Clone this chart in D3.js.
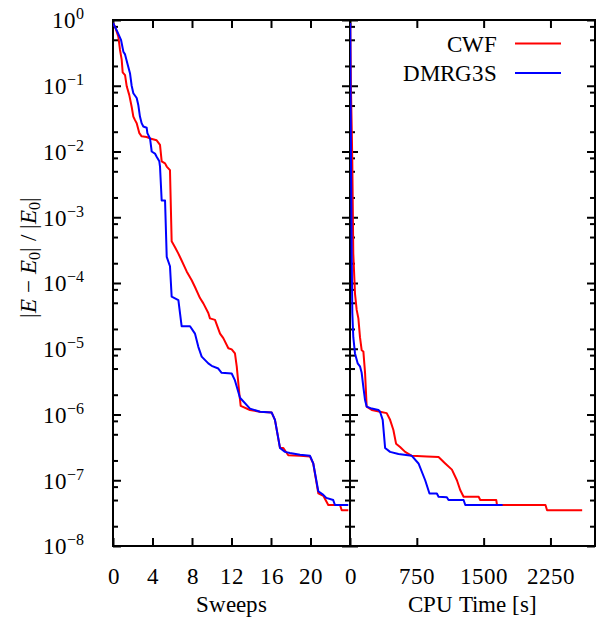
<!DOCTYPE html>
<html>
<head>
<meta charset="utf-8">
<script src="https://cdn.jsdelivr.net/npm/d3@7"></script>
<style>
@font-face { font-family: "ChartSerif"; src: local("Liberation Serif"), local("LiberationSerif"), local("LiberationSerif-Regular"); font-style: normal; }
@font-face { font-family: "ChartSerif"; src: local("Liberation Serif Italic"), local("LiberationSerif-Italic"); font-style: italic; }
</style>
</head>
<body style="margin:0">
<svg id="chart" width="599" height="618" style="font-family: ChartSerif, 'Liberation Serif', 'Times New Roman', serif"></svg>
<script>
// tick labels / series names
const sweepTicks = [0, 4, 8, 12, 16, 20];
const timeTicks = [0, 750, 1500, 2250];
const decades = [0, -1, -2, -3, -4, -5, -6, -7, -8];
const minorMantissas = [2, 5, 8];
const seriesNames = ["CWF", "DMRG3S"];
const seriesColors = ["#ff0000", "#0000ff"];

// relative error vs sweeps  [sweep, |E-E0|/|E0|]
const cwfSweeps = [
  [0, 0.9], [0.2, 0.79], [0.54, 0.56], [0.71, 0.35], [0.88, 0.25], [0.98, 0.16], [1.22, 0.145],
  [1.39, 0.098], [1.65, 0.072], [1.89, 0.048], [2.06, 0.034], [2.23, 0.030], [2.40, 0.027],
  [2.67, 0.019], [2.90, 0.017], [3.41, 0.0166], [3.75, 0.0158], [4.42, 0.0148], [4.76, 0.0126],
  [4.93, 0.0071], [5.27, 0.0066], [5.44, 0.0059], [5.77, 0.0052], [5.94, 4.3e-4], [6.28, 3.5e-4],
  [6.62, 2.8e-4], [6.95, 2.2e-4], [7.46, 1.5e-4], [7.97, 1.1e-4], [8.30, 8.7e-5], [8.81, 5.9e-5],
  [9.15, 4.9e-5], [9.65, 3.5e-5], [9.82, 2.9e-5], [10.33, 2.75e-5], [10.84, 1.7e-5], [11.17, 1.45e-5],
  [11.68, 1.02e-5], [12.02, 9.8e-6], [12.35, 8.5e-6], [12.53, 5.4e-6], [12.79, 2.1e-6], [12.93, 1.35e-6],
  [13.87, 1.17e-6], [14.89, 1.10e-6], [16.07, 1.07e-6], [16.4, 8.3e-7], [16.91, 3.1e-7], [17.25, 3.1e-7],
  [17.75, 2.4e-7], [18.94, 2.35e-7], [19.95, 2.3e-7], [20.28, 1.8e-7], [20.79, 6.3e-8], [21.3, 5.8e-8],
  [21.8, 4.2e-8], [22.99, 4.2e-8], [23.16, 3.5e-8], [23.83, 3.5e-8]
];
const dmrgSweeps = [
  [0, 0.9], [0.37, 0.70], [0.81, 0.50], [1.05, 0.33], [1.22, 0.30], [1.45, 0.22], [1.72, 0.155],
  [1.89, 0.10], [2.06, 0.077], [2.40, 0.065], [2.56, 0.051], [2.73, 0.034], [2.90, 0.027], [3.07, 0.024],
  [3.41, 0.023], [3.48, 0.019], [3.75, 0.0158], [3.92, 0.010], [4.25, 0.0093], [4.42, 0.0083],
  [4.69, 0.0071], [4.76, 0.0059], [4.93, 0.0018], [5.27, 0.0018], [5.44, 2.5e-4], [5.77, 1.8e-4],
  [5.94, 6.2e-5], [6.62, 5.5e-5], [6.95, 2.2e-5], [7.80, 2.2e-5], [8.30, 1.7e-5], [8.64, 1.07e-5],
  [8.98, 7.6e-6], [9.65, 6.0e-6], [9.99, 5.5e-6], [10.66, 5.0e-6], [11.0, 4.3e-6], [12.02, 4.2e-6],
  [12.35, 3.3e-6], [12.86, 1.8e-6], [13.87, 1.23e-6], [14.89, 1.10e-6], [16.07, 1.07e-6], [16.4, 8.3e-7],
  [16.91, 3.1e-7], [17.42, 2.7e-7], [17.92, 2.6e-7], [18.94, 2.45e-7], [19.95, 2.35e-7], [20.28, 1.8e-7],
  [20.79, 6.8e-8], [21.3, 6.0e-8], [21.6, 5.4e-8], [22.3, 5.0e-8], [22.48, 4.2e-8], [23.83, 4.2e-8]
];

// relative error vs CPU time  [seconds, |E-E0|/|E0|]
const cwfTime = [
  [3, 0.9], [10, 0.1], [20, 0.02], [26, 6.6e-3], [37, 2.8e-4], [56, 6.9e-5], [75, 3.9e-5], [94, 2.9e-5],
  [112, 1.5e-5], [131, 9.5e-6], [150, 9.1e-6], [169, 4.3e-6], [187, 1.32e-6], [244, 1.17e-6],
  [337, 1.10e-6], [412, 1.05e-6], [450, 8.3e-7], [487, 5.8e-7], [517, 3.6e-7], [562, 3.2e-7],
  [619, 2.7e-7], [694, 2.35e-7], [862, 2.3e-7], [994, 2.25e-7], [1069, 1.8e-7], [1144, 1.45e-7],
  [1200, 1.0e-7], [1237, 7.1e-8], [1275, 5.6e-8], [1444, 5.6e-8], [1462, 5.0e-8], [1642, 5.0e-8],
  [1650, 4.2e-8], [2194, 4.2e-8], [2212, 3.5e-8], [2606, 3.5e-8]
];
const dmrgTime = [
  [3, 0.9], [6, 0.1], [11, 9e-3], [19, 2.8e-4], [26, 3.5e-5], [37, 1.5e-5], [56, 8.5e-6], [86, 6.0e-6],
  [112, 5.4e-6], [131, 4.3e-6], [150, 2.6e-6], [169, 1.66e-6], [187, 1.32e-6], [244, 1.23e-6],
  [319, 1.17e-6], [337, 1.10e-6], [367, 8.3e-7], [394, 3.1e-7], [450, 2.7e-7], [544, 2.5e-7],
  [694, 2.35e-7], [769, 1.8e-7], [844, 1.0e-7], [892, 6.3e-8], [975, 6.3e-8], [994, 5.6e-8],
  [1087, 5.5e-8], [1106, 5.0e-8], [1275, 5.0e-8], [1294, 4.2e-8], [1713, 4.2e-8]
];

const svg = d3.select("#chart");
const plotTop = 20, plotBottom = 546, plotLeft = 113, plotMid = 350, plotRight = 595;
const fontFamily = "ChartSerif, 'Liberation Serif', 'Times New Roman', serif";
const fontSize = 23;

const y = d3.scaleLog().domain([1e-8, 1]).range([plotBottom, plotTop]);
const xSweep = d3.scaleLinear().domain([0, 24]).range([plotLeft, plotMid]);
const xTime = d3.scaleLinear().domain([0, 2750]).range([plotMid, plotRight]);

const majors = decades.map(d => Math.pow(10, d));
const minors = [];
decades.slice(0, -1).forEach(d => minorMantissas.forEach(m => minors.push(m * Math.pow(10, d - 1))));

function styleAxis(g) {
  g.select(".domain").remove();
  g.attr("font-family", null).attr("font-size", null);
  g.selectAll(".tick line").attr("stroke-width", 2);
  g.selectAll("text").style("font-family", fontFamily).attr("font-size", fontSize);
}

// y axis ticks: inward on every vertical border
const yAxes = [
  { x: plotLeft, make: d3.axisLeft, sign: -1 },
  { x: plotMid, make: d3.axisLeft, sign: 1 },
  { x: plotMid, make: d3.axisRight, sign: 1 },
  { x: plotRight, make: d3.axisLeft, sign: 1 }
];
yAxes.forEach(a => {
  [[majors, 8], [minors, 5]].forEach(([vals, len]) => {
    svg.append("g")
      .attr("transform", `translate(${a.x},0)`)
      .call(a.make(y).tickValues(vals).tickSize(a.sign * len).tickFormat(""))
      .call(styleAxis);
  });
});

// y tick labels 10^n
const yLab = svg.append("g")
  .attr("transform", `translate(${plotLeft},0)`)
  .call(d3.axisLeft(y).tickValues(majors).tickSize(0).tickPadding(29).tickFormat(() => "10"))
  .call(styleAxis);
yLab.selectAll(".tick line").remove();
yLab.selectAll(".tick text").attr("dy", "0.34em")
  .append("tspan")
  .attr("dy", -9)
  .attr("font-size", 16)
  .text(d => {
    const e = Math.round(Math.log10(d));
    return e < 0 ? "\u2212" + (-e) : String(e);
  });

// x axes
function xAxes(scale, ticks) {
  svg.append("g")
    .attr("transform", `translate(0,${plotTop})`)
    .call(d3.axisBottom(scale).tickValues(ticks).tickSize(8).tickFormat(""))
    .call(styleAxis);
  svg.append("g")
    .attr("transform", `translate(0,${plotBottom})`)
    .call(d3.axisBottom(scale).tickValues(ticks).tickSize(-8).tickPadding(22).tickFormat(d3.format("d")))
    .call(styleAxis);
}
xAxes(xSweep, sweepTicks);
xAxes(xTime, timeTicks);

// frames
[[plotLeft, plotMid], [plotMid, plotRight]].forEach(([x0, x1]) => {
  svg.append("rect").attr("x", x0).attr("y", plotTop).attr("width", x1 - x0).attr("height", plotBottom - plotTop)
    .attr("fill", "none").attr("stroke", "#000").attr("stroke-width", 2);
});

// clip paths
const defs = svg.append("defs");
defs.append("clipPath").attr("id", "clipL").append("rect")
  .attr("x", plotLeft).attr("y", plotTop).attr("width", plotMid - plotLeft).attr("height", plotBottom - plotTop);
defs.append("clipPath").attr("id", "clipR").append("rect")
  .attr("x", plotMid).attr("y", plotTop).attr("width", plotRight - plotMid).attr("height", plotBottom - plotTop);

function drawLine(data, xs, color, clip) {
  svg.append("path")
    .datum(data)
    .attr("clip-path", `url(#${clip})`)
    .attr("fill", "none")
    .attr("stroke", color)
    .attr("stroke-width", 2)
    .attr("stroke-linejoin", "round")
    .attr("d", d3.line().x(d => xs(d[0])).y(d => y(d[1])));
}
drawLine(cwfSweeps, xSweep, seriesColors[0], "clipL");
drawLine(dmrgSweeps, xSweep, seriesColors[1], "clipL");
drawLine(cwfTime, xTime, seriesColors[0], "clipR");
drawLine(dmrgTime, xTime, seriesColors[1], "clipR");

function addText(x, yPos, str, anchor) {
  return svg.append("text").attr("x", x).attr("y", yPos).attr("text-anchor", anchor)
    .style("font-family", fontFamily).attr("font-size", fontSize).text(str);
}

// axis titles
addText((plotLeft + plotMid) / 2, 612, "Sweeps", "middle");
addText((plotMid + plotRight) / 2, 612, "CPU Time [s]", "middle");

// y title |E - E0| / |E0|
const yt = svg.append("text")
  .attr("transform", "translate(29,257) rotate(-90)")
  .attr("y", 7)
  .attr("text-anchor", "middle")
  .style("font-family", fontFamily)
  .attr("font-size", fontSize);
const parts = [
  ["|", null], ["E", "i"], [" \u2212 ", null], ["E", "i"], ["0", "sub"], ["| / |", "back"],
  ["E", "i"], ["0", "sub"], ["|", "back"]
];
parts.forEach(([t, kind]) => {
  const s = yt.append("tspan").text(t);
  if (kind === "i") s.style("font-style", "italic");
  if (kind === "sub") s.attr("font-size", 16).attr("dy", 4);
  if (kind === "back") s.attr("dy", -4);
});

// legend
seriesNames.forEach((name, i) => {
  const ly = 43.5 + i * 29.5;
  addText(497, ly + 8, name, "end");
  svg.append("line").attr("x1", 515).attr("x2", 561).attr("y1", ly).attr("y2", ly)
    .attr("stroke", seriesColors[i]).attr("stroke-width", 2);
});
</script>
</body>
</html>
